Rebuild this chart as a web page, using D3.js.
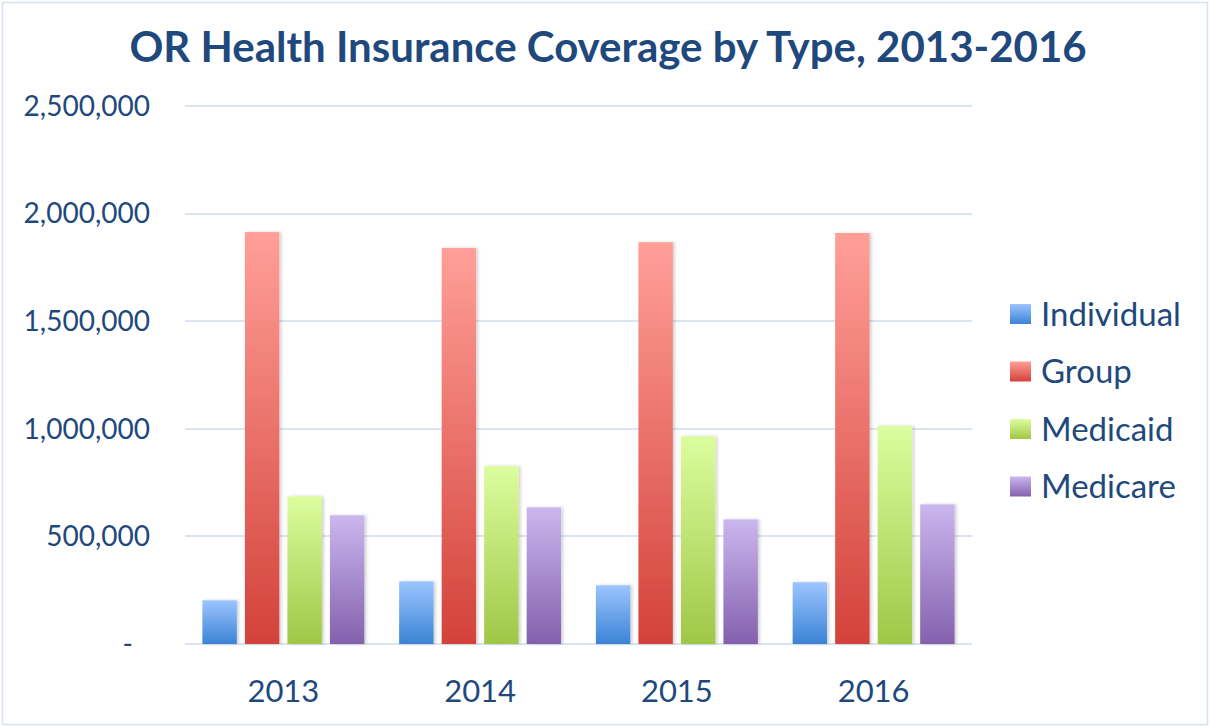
<!DOCTYPE html>
<html>
<head>
<meta charset="utf-8">
<style>
body{margin:0;background:#fff;font-family:Lato, "Open Sans", sans-serif;}
.grid line{stroke:#dbe5f1;stroke-width:2;shape-rendering:crispEdges;}
.ylab{font-size:28px;fill:#1f497d;}
.xlab{font-size:31px;fill:#1f497d;}
.leg{font-size:33px;fill:#1f497d;}
.title{font-size:42px;font-weight:bold;fill:#1f497d;}
</style>
</head>
<body>
<svg id="chart"></svg>
<script src="https://cdn.jsdelivr.net/npm/d3@7"></script>
<script>

// data
var years     = ["2013", "2014", "2015", "2016"];
var types     = ["Individual", "Group", "Medicaid", "Medicare"];
var individual = [203000, 291000, 273000, 287000];
var group      = [1914000, 1840000, 1867000, 1910000];
var medicaid   = [686000, 826000, 965000, 1013000];
var medicare   = [598000, 635000, 579000, 649000];
var yTicks    = [0, 500000, 1000000, 1500000, 2000000, 2500000];

var seriesVals = [individual, group, medicaid, medicare];

// gradient top / bottom per series
var gradTop = ["#9cc5ff", "#ff9f98", "#dcfd9e", "#cbb7ef"];
var gradBot = ["#3b83d5", "#d3423a", "#9fc747", "#8460ad"];

var W = 1210, H = 727;
var margin = {top: 106, right: 238, bottom: 83, left: 185};
var width  = W - margin.left - margin.right;
var height = H - margin.top - margin.bottom;

var svg = d3.select("#chart").attr("width", W).attr("height", H);

var defs = svg.append("defs");
types.forEach(function(t, i){
  var g = defs.append("linearGradient").attr("id", "g" + i)
      .attr("x1", 0).attr("y1", 0).attr("x2", 0).attr("y2", 1);
  g.append("stop").attr("offset", "0%").attr("stop-color", gradTop[i]);
  g.append("stop").attr("offset", "100%").attr("stop-color", gradBot[i]);
});
var f = defs.append("filter").attr("id", "shadow")
    .attr("x", "-20%").attr("y", "-5%").attr("width", "150%").attr("height", "110%");
f.append("feDropShadow").attr("dx", 2).attr("dy", 0).attr("stdDeviation", 1.5)
    .attr("flood-color", "#000").attr("flood-opacity", 0.18);

// outer border
svg.append("rect").attr("x", 2.5).attr("y", 2.5).attr("width", W - 5).attr("height", H - 5)
    .attr("fill", "none").attr("stroke", "#d7e2f0").attr("stroke-width", 1.5);

svg.append("text").attr("class", "title")
    .attr("x", 608).attr("y", 62).attr("text-anchor", "middle")
    .text("OR Health Insurance Coverage by Type, 2013-2016");

var g = svg.append("g").attr("transform", "translate(" + margin.left + "," + margin.top + ")");

var y = d3.scaleLinear().domain([0, 2500000]).range([height, 0]);
var x0 = d3.scaleBand().domain(years).range([0, width]);
var outer = 17.4;
var x1 = d3.scaleBand().domain(types)
    .range([outer, x0.bandwidth() - outer]).paddingInner(0.19);

g.append("g").attr("class", "grid")
  .selectAll("line").data(yTicks).enter().append("line")
    .attr("x1", 0).attr("x2", width)
    .attr("y1", function(d){ return y(d); })
    .attr("y2", function(d){ return y(d); });

var fmt = d3.format(",");
g.append("g").selectAll("text").data(yTicks).enter().append("text")
    .attr("class", "ylab")
    .attr("x", function(d){ return d === 0 ? -52 : -35; })
    .attr("y", function(d){ return y(d); })
    .attr("dy", "0.35em")
    .attr("text-anchor", "end")
    .text(function(d){ return d === 0 ? "-" : fmt(d); });

var yrs = g.selectAll(".yr").data(years).enter().append("g")
    .attr("transform", function(d){ return "translate(" + x0(d) + ",0)"; });

yrs.selectAll("rect").data(function(d, yi){
    return types.map(function(t, si){ return {t: t, si: si, v: seriesVals[si][yi]}; });
  }).enter().append("rect")
    .attr("x", function(d){ return x1(d.t); })
    .attr("width", x1.bandwidth())
    .attr("y", function(d){ return y(d.v); })
    .attr("height", function(d){ return height - y(d.v); })
    .attr("fill", function(d){ return "url(#g" + d.si + ")"; })
    .attr("filter", "url(#shadow)");

g.append("g").selectAll("text").data(years).enter().append("text")
    .attr("class", "xlab")
    .attr("x", function(d){ return x0(d) + x0.bandwidth() / 2; })
    .attr("y", height + 58)
    .attr("text-anchor", "middle")
    .text(function(d){ return d; });

// legend
var leg = svg.append("g").attr("transform", "translate(1010,304)");
var li = leg.selectAll("g").data(types).enter().append("g")
    .attr("transform", function(d, i){ return "translate(0," + (i * 57.5) + ")"; });
li.append("rect").attr("width", 21).attr("height", 20)
    .attr("fill", function(d, i){ return "url(#g" + i + ")"; });
li.append("text").attr("class", "leg").attr("x", 31).attr("y", 10).attr("dy", "0.36em")
    .text(function(d){ return d; });

</script>
</body>
</html>
